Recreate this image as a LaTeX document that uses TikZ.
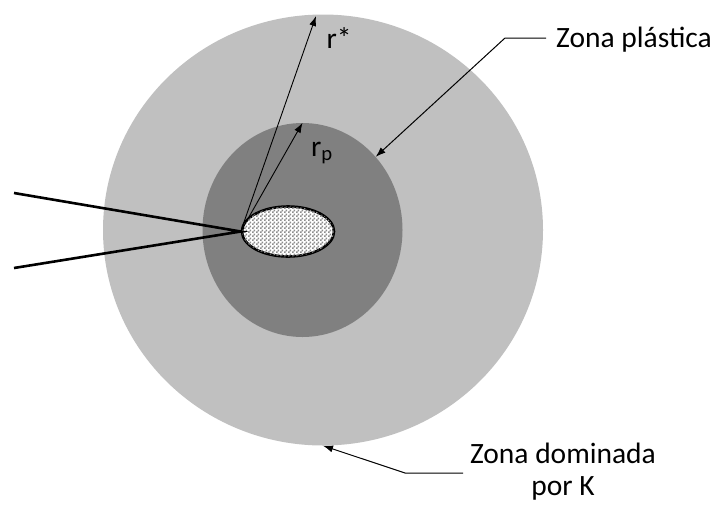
\documentclass[tikz,border=0pt]{standalone}
\usepackage{fontspec}
\setmainfont{Carlito}
\usepackage{tikz}
\usetikzlibrary{arrows.meta,shapes.geometric,patterns}

\definecolor{lightzone}{RGB}{192,192,192}
\definecolor{darkzone}{RGB}{128,128,128}
\definecolor{checkgray}{RGB}{140,140,140}

\pgfdeclarepatternformonly{checker}{\pgfpointorigin}{\pgfqpoint{4pt}{4pt}}{\pgfqpoint{4pt}{4pt}}{%
	\pgfpathrectangle{\pgfpointorigin}{\pgfqpoint{2pt}{2pt}}%
	\pgfpathrectangle{\pgfqpoint{2pt}{2pt}}{\pgfqpoint{2pt}{2pt}}%
	\pgfusepath{fill}}

\tikzset{
	zone/.style={ellipse, inner sep=0pt},
	crack/.style={line width=2.6pt, line join=miter},
	radius arrow/.style={line width=0.9pt, -{Latex[length=10pt,width=7pt]}},
	leader/.style={line width=1pt, -{Latex[length=10pt,width=7pt]}},
	label/.style={font=\fontsize{29.5}{32}\selectfont, inner sep=0pt}
}

\begin{document}
\begin{tikzpicture}[x=1pt,y=-1pt]
	\useasboundingbox (0,0) rectangle (719,504);

	% zones
	\node (outer) [zone, fill=lightzone, minimum width=440pt, minimum height=431pt] at (323,230) {};
	\node (plastic) [zone, fill=darkzone, minimum width=200pt, minimum height=214pt] at (302.5,230) {};
	\node (core) [zone, draw, line width=2.6pt, fill=white,
		postaction={pattern=checker, pattern color=checkgray},
		minimum width=92pt, minimum height=50pt] at (288,231.5) {};

	% crack flanks
	\coordinate (flankA) at (14,193);
	\coordinate (flankB) at (14,268);
	\draw[crack] (flankA) -- (core.west) -- (flankB);

	% radii
	\coordinate (rstarend) at (316,16);
	\draw[radius arrow] (core.west) -- (rstarend);
	\draw[radius arrow] (core.west) -- (plastic.north);
	\node (rstar) [label] at (339,38) {r*};
	\node (rp) [label] at (322,153) {r\textsubscript{p}};

	% labels
	\node (zp) [label, anchor=west] at (556,40) {Zona plástica};
	\coordinate (zpbend) at (505,38);
	\draw[leader] (zp.west |- zpbend) ++(-10,0) -- (zpbend) -- (plastic.45);

	\node (zd) [label, align=center] at (563,472) {Zona dominada\\por K};
	\coordinate (zdstart) at (463,473);
	\coordinate (zdbend) at (405,473);
	\draw[leader] (zdstart) -- (zdbend) -- (outer.-90);
\end{tikzpicture}
\end{document}
